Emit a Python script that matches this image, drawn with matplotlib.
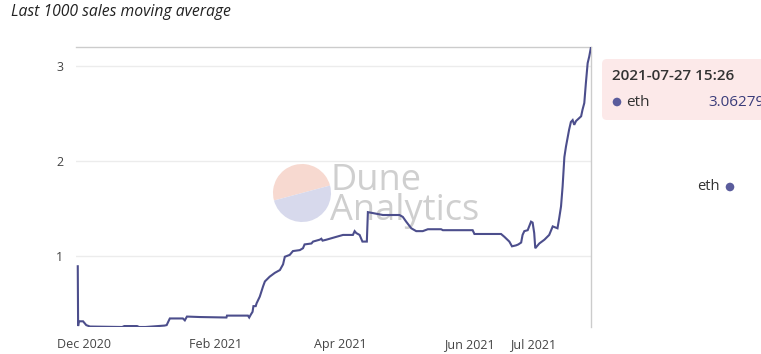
import matplotlib
matplotlib.use("Agg")
import matplotlib.pyplot as plt
from matplotlib.patches import Wedge, FancyBboxPatch, Circle
import pandas as pd

# ---- data ----
dates = [
    "2020-11-28 00:00", "2020-11-28 04:00", "2020-11-28 12:00", "2020-11-30 12:00",
    "2020-12-02 00:00", "2020-12-03 18:00", "2020-12-19 00:00", "2020-12-20 00:00",
    "2020-12-26 00:00", "2020-12-27 00:00", "2020-12-30 00:00", "2021-01-08 00:00",
    "2021-01-09 00:00", "2021-01-10 12:00", "2021-01-16 16:00", "2021-01-17 14:00",
    "2021-01-18 14:00", "2021-01-24 16:00", "2021-02-06 06:00", "2021-02-06 12:00",
    "2021-02-16 10:00", "2021-02-17 00:00", "2021-02-17 18:00", "2021-02-18 14:00",
    "2021-02-19 00:00", "2021-02-20 02:00", "2021-02-20 12:00", "2021-02-22 00:00",
    "2021-02-23 14:00", "2021-02-24 10:00", "2021-02-26 16:00", "2021-03-01 02:00",
    "2021-03-03 12:00", "2021-03-05 00:00", "2021-03-05 20:00", "2021-03-08 04:00",
    "2021-03-09 16:00", "2021-03-12 22:00", "2021-03-14 10:00", "2021-03-15 04:00",
    "2021-03-18 10:00", "2021-03-19 04:00", "2021-03-22 08:00", "2021-03-23 02:00",
    "2021-03-23 16:00", "2021-03-25 12:00", "2021-03-30 04:00", "2021-04-02 08:00",
    "2021-04-07 00:00", "2021-04-07 20:00", "2021-04-08 14:00", "2021-04-10 04:00",
    "2021-04-11 12:00", "2021-04-13 14:00", "2021-04-14 02:00", "2021-04-16 12:00",
    "2021-04-21 04:00", "2021-04-29 00:00", "2021-04-30 14:00", "2021-05-02 04:00",
    "2021-05-04 14:00", "2021-05-06 22:00", "2021-05-10 00:00", "2021-05-12 10:00",
    "2021-05-18 16:00", "2021-05-19 12:00", "2021-06-02 14:00", "2021-06-03 10:00",
    "2021-06-16 00:00", "2021-06-17 14:00", "2021-06-19 22:00", "2021-06-21 04:00",
    "2021-06-23 02:00", "2021-06-24 04:00", "2021-06-25 12:00", "2021-06-26 04:00",
    "2021-06-27 00:00", "2021-06-28 14:00", "2021-06-30 04:00", "2021-06-30 22:00",
    "2021-07-01 16:00", "2021-07-02 04:00", "2021-07-04 02:00", "2021-07-06 12:00",
    "2021-07-08 18:00", "2021-07-10 10:00", "2021-07-12 16:00", "2021-07-13 12:00",
    "2021-07-14 08:00", "2021-07-15 02:00", "2021-07-15 22:00", "2021-07-16 16:00",
    "2021-07-18 04:00", "2021-07-19 00:00", "2021-07-19 20:00", "2021-07-20 14:00",
    "2021-07-21 10:00", "2021-07-23 20:00", "2021-07-24 12:00", "2021-07-25 08:00",
    "2021-07-26 02:00", "2021-07-26 22:00", "2021-07-27 16:00", "2021-07-28 12:00",
]
eth = [
    0.89, 0.26, 0.31, 0.31,
    0.27, 0.255, 0.25, 0.26,
    0.26, 0.25, 0.25, 0.265,
    0.27, 0.34, 0.34, 0.32,
    0.36, 0.355, 0.35, 0.37,
    0.37, 0.35, 0.38, 0.41,
    0.47, 0.47, 0.50, 0.57,
    0.68, 0.73, 0.78, 0.82,
    0.85, 0.91, 0.99, 1.01,
    1.05, 1.06, 1.08, 1.12,
    1.13, 1.15, 1.17, 1.18,
    1.16, 1.17, 1.20, 1.22,
    1.22, 1.26, 1.24, 1.22,
    1.15, 1.15, 1.46, 1.45,
    1.43, 1.43, 1.41, 1.36,
    1.29, 1.26, 1.26, 1.28,
    1.28, 1.27, 1.27, 1.23,
    1.23, 1.20, 1.15, 1.10,
    1.11, 1.12, 1.14, 1.22,
    1.26, 1.27, 1.36, 1.35,
    1.24, 1.08, 1.13, 1.17,
    1.22, 1.31, 1.29, 1.40,
    1.52, 1.73, 2.04, 2.15,
    2.33, 2.41, 2.43, 2.38,
    2.42, 2.47, 2.54, 2.61,
    2.82, 3.03, 3.10, 3.20,
]
yticks = [1, 2, 3]
xtick_dates = ["2020-12-01", "2021-02-01", "2021-04-01", "2021-06-01", "2021-07-01"]
xtick_labels = ["Dec 2020", "Feb 2021", "Apr 2021", "Jun 2021", "Jul 2021"]
title = "Last 1000 sales moving average"
series_name = "eth"
tooltip_time = "2021-07-27 15:26"
tooltip_value = "3.06279"
watermark = "Dune\nAnalytics"

LINE = "#4c4e8c"
DOT = "#5a5c9c"
FONT = "Open Sans"

W, H = 761, 354
fig = plt.figure(figsize=(W / 100, H / 100), dpi=100)
fig.patch.set_facecolor("white")

# overlay for decorations in pixel coordinates (y measured from top)
deco = fig.add_axes([0, 0, 1, 1], zorder=0)
deco.set_xlim(0, W)
deco.set_ylim(H, 0)
deco.axis("off")

# watermark logo
cx, cy, r = 302, 193, 29
deco.add_patch(Wedge((cx, cy), r, 165, 345, facecolor="#f7d9d0", edgecolor="none"))
deco.add_patch(Wedge((cx, cy), r, -15, 165, facecolor="#d7d9ec", edgecolor="none"))
deco.text(330, 196, watermark, fontsize=26, color="#cfcfcf", family=FONT,
          va="center", ha="left", linespacing=0.75)

# main axes
L, R, T, B = 76, 591, 47, 327
ax = fig.add_axes([L / W, 1 - B / H, (R - L) / W, (B - T) / H], zorder=1)
ax.patch.set_alpha(0)

x = pd.to_datetime(dates)
ax.plot(x, eth, color=LINE, lw=1.5, solid_joinstyle="miter", zorder=3)

ax.set_ylim(0.25, 3.2)
ax.set_xlim(pd.Timestamp("2020-11-27 04:00"), pd.Timestamp("2021-07-28 12:00"))
ax.set_yticks(yticks)
ax.set_yticklabels([str(v) for v in yticks])
ax.set_xticks(pd.to_datetime(xtick_dates))
ax.set_xticklabels(xtick_labels)
ax.grid(axis="y", color="#ececec", lw=1)
ax.set_axisbelow(True)
ax.tick_params(length=0, labelsize=9, colors="#444444")
ax.tick_params(axis="y", pad=9)
ax.tick_params(axis="x", pad=8)
for lab in ax.get_xticklabels() + ax.get_yticklabels():
    lab.set_family(FONT)
for s in ["left", "bottom"]:
    ax.spines[s].set_visible(False)
for s in ["top", "right"]:
    ax.spines[s].set_color("#cccccc")
    ax.spines[s].set_linewidth(1)

# title
fig.text(11 / W, 1 - 12 / H, title, fontsize=11.3, style="italic", color="#222222",
         family=FONT, va="center", ha="left")

# tooltip (cut off by the right edge, as in the reference)
deco.add_patch(FancyBboxPatch((602, 59), 180, 61, boxstyle="round,pad=0,rounding_size=5",
                              facecolor="#fce9e9", edgecolor="none", zorder=2))
deco.text(612, 76, tooltip_time, fontsize=11, weight="semibold", color="#333333",
          family=FONT, va="center", ha="left", zorder=3)
deco.add_patch(Circle((617, 102), 4.3, facecolor=DOT, edgecolor="none", zorder=3))
deco.text(626, 102, series_name, fontsize=11, color="#333333", family=FONT,
          va="center", ha="left", zorder=3)
deco.text(708, 102, tooltip_value, fontsize=11, color="#3a3c7a", family=FONT,
          va="center", ha="left", zorder=3, clip_on=False)

# legend
deco.text(720, 187, series_name, fontsize=10.5, color="#333333", family=FONT,
          va="center", ha="right")
deco.add_patch(Circle((730, 187), 4.3, facecolor=DOT, edgecolor="none"))

fig.savefig("out.png", dpi=100, facecolor="white")
